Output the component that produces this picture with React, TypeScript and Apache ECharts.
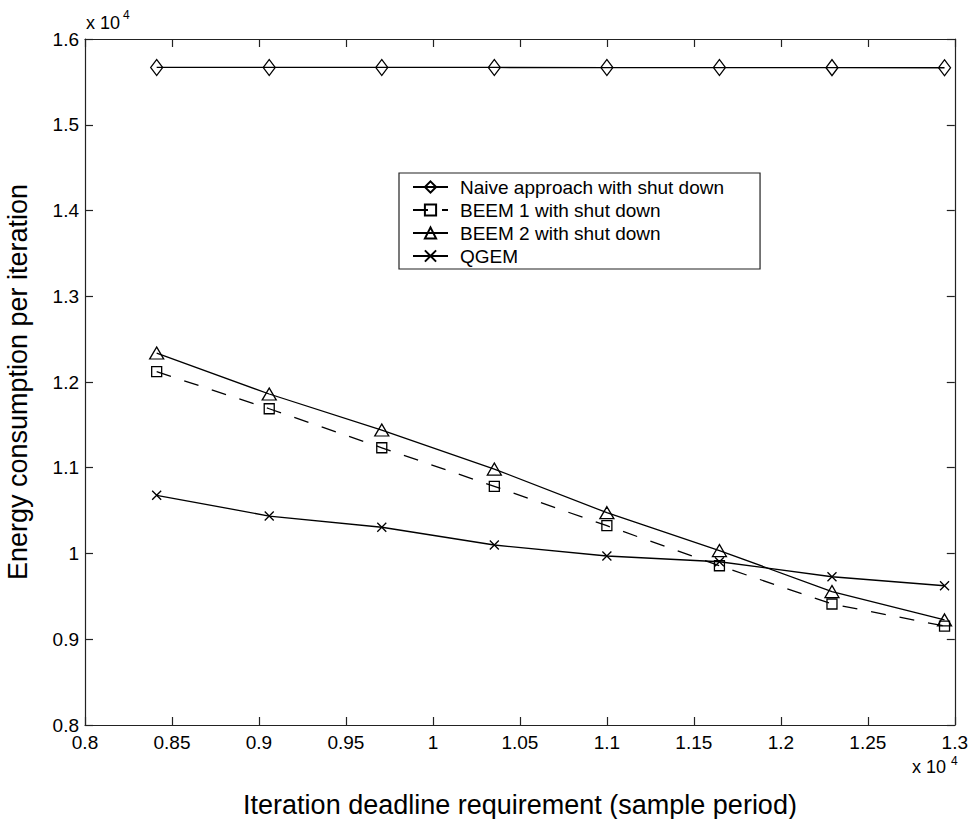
import React, { useEffect, useRef } from "react";
import * as echarts from "echarts";

// x values in units of 10^4 (sample period)
const deadlines = [0.8412, 0.9059, 0.9706, 1.0353, 1.1, 1.1647, 1.2294, 1.2941];
// y values in units of 10^4
const naive = [1.5668, 1.5668, 1.5668, 1.5668, 1.5667, 1.5667, 1.5666, 1.5665];
const beem1 = [1.212, 1.1688, 1.1233, 1.0783, 1.0324, 0.9857, 0.9411, 0.9154];
const beem2 = [1.2338, 1.186, 1.144, 1.0985, 1.0476, 1.0034, 0.9556, 0.9225];
const qgem = [1.0679, 1.0437, 1.0306, 1.0099, 0.9971, 0.9904, 0.9729, 0.9624];

const seriesNames = [
  "Naive approach with shut down",
  "BEEM 1 with shut down",
  "BEEM 2 with shut down",
  "QGEM",
];
const xTitle = "Iteration deadline requirement (sample period)";
const yTitle = "Energy consumption per iteration";

const FONT = "'Liberation Sans', Arial, Helvetica, sans-serif";

const fmt = (v: number) => String(+(+v).toFixed(2));

export default function App() {
  const ref = useRef<HTMLDivElement>(null);
  useEffect(() => {
    if (!ref.current) return;
    const chart = echarts.init(ref.current, undefined, { renderer: "svg" });
    const pair = (ys: number[]) => ys.map((y, i) => [deadlines[i], y]);
    const baseSeries = (name: string, ys: number[], symbol: string, size: any, dashed = false) => ({
      type: "line",
      name,
      data: pair(ys),
      xAxisIndex: 0,
      yAxisIndex: 0,
      symbol,
      symbolSize: size,
      showAllSymbol: true,
      silent: true,
      lineStyle: { color: "#000", width: 1.3, type: dashed ? [15, 14] : "solid" },
      itemStyle: { color: "rgba(0,0,0,0)", borderColor: "#000", borderWidth: 1.3 },
      emphasis: { disabled: true },
      z: 3,
    });
    const lineCol = { color: "#222", width: 1.2 };
    chart.setOption({
      animation: false,
      backgroundColor: "#fff",
      textStyle: { fontFamily: FONT },
      grid: { left: 85, right: 15, top: 39, bottom: 94, containLabel: false },
      xAxis: [
        {
          type: "value",
          position: "bottom",
          min: 0.8,
          max: 1.3,
          interval: 0.05,
          axisLine: { show: true, onZero: false, lineStyle: lineCol },
          axisTick: { show: true, inside: true, length: 8, lineStyle: lineCol },
          axisLabel: {
            show: true,
            color: "#000",
            fontSize: 19,
            fontFamily: FONT,
            margin: 8,
            showMinLabel: true,
            showMaxLabel: true,
            formatter: fmt,
          },
          splitLine: { show: false },
        },
        {
          type: "value",
          position: "top",
          min: 0.8,
          max: 1.3,
          interval: 0.05,
          axisLine: { show: true, onZero: false, lineStyle: lineCol },
          axisTick: { show: true, inside: true, length: 8, lineStyle: lineCol },
          axisLabel: { show: false },
          splitLine: { show: false },
        },
      ],
      yAxis: [
        {
          type: "value",
          position: "left",
          min: 0.8,
          max: 1.6,
          interval: 0.1,
          axisLine: { show: true, onZero: false, lineStyle: lineCol },
          axisTick: { show: true, inside: true, length: 8, lineStyle: lineCol },
          axisLabel: {
            show: true,
            color: "#000",
            fontSize: 19,
            fontFamily: FONT,
            margin: 6,
            showMinLabel: true,
            showMaxLabel: true,
            formatter: fmt,
          },
          splitLine: { show: false },
        },
        {
          type: "value",
          position: "right",
          min: 0.8,
          max: 1.6,
          interval: 0.1,
          axisLine: { show: true, onZero: false, lineStyle: lineCol },
          axisTick: { show: true, inside: true, length: 8, lineStyle: lineCol },
          axisLabel: { show: false },
          splitLine: { show: false },
        },
      ],
      legend: {
        show: true,
        orient: "vertical",
        left: 399,
        top: 173,
        padding: [4, 36, 3, 13],
        itemGap: 3,
        itemWidth: 35,
        itemHeight: 14,
        selectedMode: false,
        backgroundColor: "#fff",
        borderColor: "#222",
        borderWidth: 1.2,
        borderRadius: 0,
        textStyle: {
          color: "#000",
          fontSize: 19,
          fontFamily: FONT,
          lineHeight: 20,
          padding: [0, 0, 0, 7],
        },
        data: seriesNames,
      },
      series: [
        baseSeries(seriesNames[0], naive, "diamond", [12, 16]),
        baseSeries(seriesNames[1], beem1, "rect", [10, 10], true),
        baseSeries(seriesNames[2], beem2, "triangle", [14, 12]),
        baseSeries(seriesNames[3], qgem, "path://M0,0L10,10M10,0L0,10", [9, 9]),
      ],
      graphic: [
        {
          type: "text",
          left: 86,
          top: 14,
          style: { text: "x 10", fontSize: 18, fontFamily: FONT, fill: "#000" },
        },
        {
          type: "text",
          left: 123,
          top: 9,
          style: { text: "4", fontSize: 12, fontFamily: FONT, fill: "#000" },
        },
        {
          type: "text",
          left: 912,
          top: 758,
          style: { text: "x 10", fontSize: 18, fontFamily: FONT, fill: "#000" },
        },
        {
          type: "text",
          left: 951,
          top: 755,
          style: { text: "4", fontSize: 12, fontFamily: FONT, fill: "#000" },
        },
        {
          type: "text",
          x: 520,
          y: 805,
          style: {
            text: xTitle,
            fontSize: 27,
            fontFamily: FONT,
            fill: "#000",
            textAlign: "center",
            textVerticalAlign: "middle",
          },
        },
        {
          type: "text",
          x: 18,
          y: 382,
          rotation: Math.PI / 2,
          style: {
            text: yTitle,
            fontSize: 27,
            fontFamily: FONT,
            fill: "#000",
            textAlign: "center",
            textVerticalAlign: "middle",
          },
        },
      ],
    });
    return () => chart.dispose();
  }, []);
  return (
    <div
      ref={ref}
      style={{ position: "absolute", left: 0, top: 0, width: 971, height: 819 }}
    />
  );
}
